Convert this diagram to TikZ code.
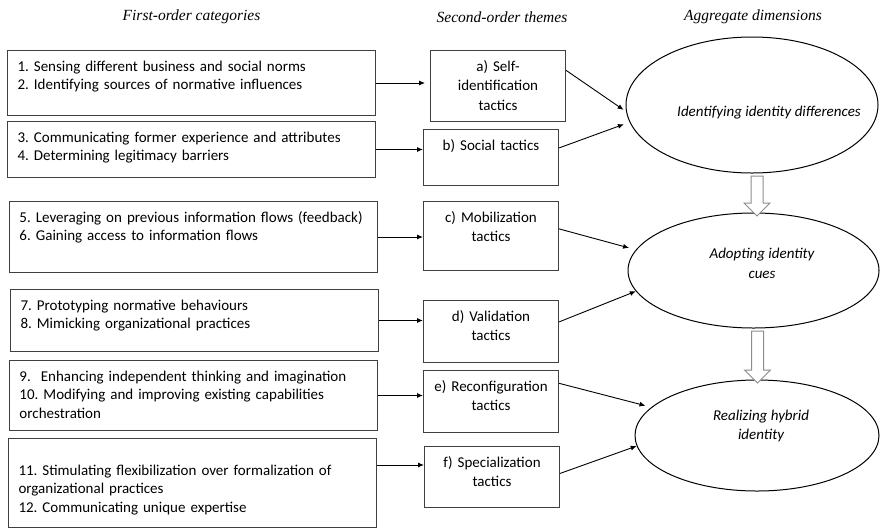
\documentclass[tikz,border=0pt]{standalone}
\usepackage{fontspec}
\setmainfont{Carlito}
\newfontfamily\headfont{Liberation Serif}
\usetikzlibrary{arrows.meta,shapes.geometric,shapes.arrows,positioning}
\frenchspacing

\tikzset{
	cat/.style={draw=black!75, line width=1pt, anchor=north west, text width=348pt, align=left, inner xsep=10pt, inner ysep=4pt, text height=16.5pt, text depth=#1, font=\fontsize{15}{18.5}\selectfont},
	theme/.style={draw=black!75, line width=1pt, anchor=north west, text width=127pt, align=center, inner xsep=4pt, inner ysep=4pt, text height=16.5pt, text depth=#1, font=\fontsize{15}{19.5}\selectfont},
	dim/.style={ellipse, draw=black, line width=1pt, inner sep=0pt},
	dimtext/.style={align=center, font=\fontsize{15}{19.5}\selectfont\itshape},
	head/.style={font=\headfont\fontsize{15.5}{18}\selectfont\itshape},
	flow/.style={single arrow, draw=black!45, fill=white, line width=1pt, shape border rotate=270, inner sep=5.5pt, single arrow head extend=7pt},
	link/.style={-{Latex[length=6pt,width=5pt]}, line width=0.9pt}
}

\begin{document}
\begin{tikzpicture}[x=1pt, y=-1pt]
	\useasboundingbox (0,0) rectangle (880,528);
	\node (hcat)   at (191.5, 17)	[head]	{First-order categories};
	\node (htheme) at (502, 17)	[head]	{Second-order themes};
	\node (hdim)   at (753, 17)	[head]	{Aggregate dimensions};

	\node (L1) at ( 7,  50)	[cat=40.5pt]	{1. Sensing different business and social norms\\2. Identifying sources of normative influences};
	\node (L2) at ( 7, 121)	[cat=31.5pt]	{3. Communicating former experience and attributes\\4. Determining legitimacy barriers};
	\node (L3) at ( 9, 201)	[cat=46.5pt]	{5. Leveraging on previous information flows (feedback)\\6. Gaining access to information flows};
	\node (L4) at (10, 289)	[cat=37.5pt]	{7. Prototyping normative behaviours\\8. Mimicking organizational practices};
	\node (L5) at ( 9, 360)	[cat=45.5pt]	{9.~ Enhancing independent thinking and imagination\\10. Modifying and improving existing capabilities\\orchestration};
	\node (L6) at ( 8, 438)	[cat=48.5pt, text height=32.5pt]	{11. Stimulating flexibilization over formalization of\\organizational practices\\12. Communicating unique expertise};

	\node (a) at (430,  50)	[theme=46.5pt]	{a) Self-\\identification\\tactics};
	\node (b) at (423, 129)	[theme=31.5pt]	{b) Social tactics};
	\node (c) at (423, 201)	[theme=44.5pt]	{c) Mobilization\\tactics};
	\node (d) at (423, 300)	[theme=37.5pt]	{d) Validation\\tactics};
	\node (e) at (423, 370)	[theme=37.5pt]	{e) Reconfiguration\\tactics};
	\node (f) at (424, 446)	[theme=36.5pt]	{f) Specialization\\tactics};

	\node (E1) at (752, 105)	[dim, minimum width=252pt, minimum height=136pt]	{};
	\node (E2) at (753.5, 270.5)	[dim, minimum width=251pt, minimum height=115pt]	{};
	\node (E3) at (757, 435.5)	[dim, minimum width=244pt, minimum height=111pt]	{};
	\node (T1) at (769, 113)	[dimtext]	{Identifying identity differences};
	\node (T2) at (762, 263.5)	[dimtext]	{Adopting identity\\cues};
	\node (T3) at (761, 426)	[dimtext]	{Realizing hybrid\\identity};

	\node (F1) at (757, 193)	[flow, minimum height=40pt]	{};
	\node (F2) at (757.5, 354)	[flow, minimum height=52pt]	{};

	\draw[link, shorten >=5pt] (L1.east) -- (L1.east -| a.west);
	\draw[link] (L2.east) -- (L2.east -| b.west);
	\draw[link] (L3.east) -- (L3.east -| c.west);
	\draw[link] (L4.east) -- (L4.east -| d.west);
	\draw[link] (L5.east) -- (L5.east -| e.west);
	\draw[link] ([yshift=18pt]L6.east) -- ([yshift=18pt]L6.east -| f.west);

	\draw[link, shorten >=3pt] (a.13) -- (E1.183);
	\draw[link, shorten >=6pt] (b.8) -- (E1.188);
	\draw[link, shorten >=7pt] (c.6) -- (E2.170);
	\draw[link] (d.8) -- (E2.190);
	\draw[link, shorten >=6pt] (e.15) -- (E3.165);
	\draw[link] (f.3) -- (E3.185);
\end{tikzpicture}
\end{document}
